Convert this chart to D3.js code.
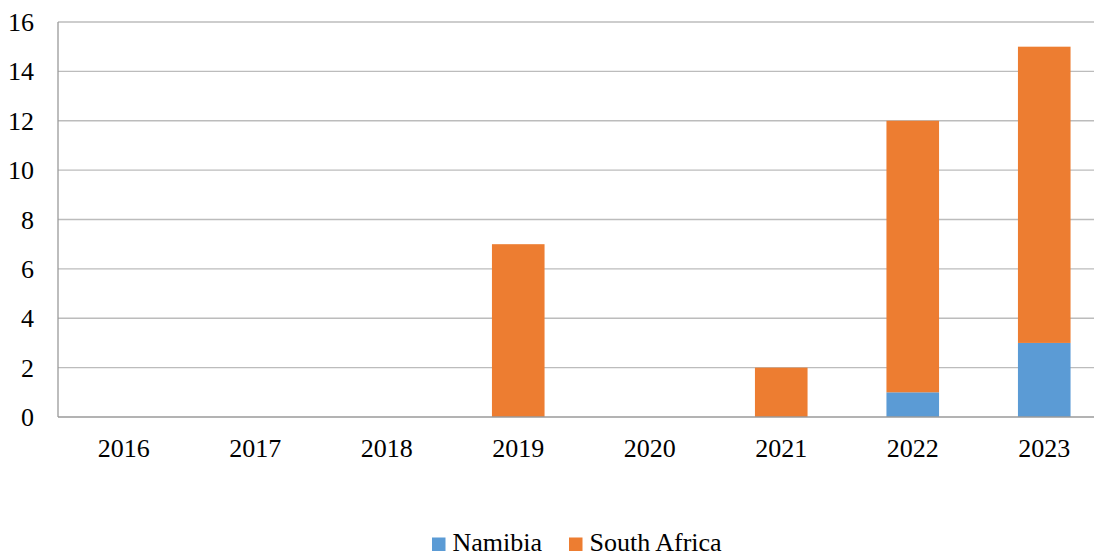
<!DOCTYPE html>
<html><head><meta charset="utf-8">
<script src="https://cdn.jsdelivr.net/npm/d3@7"></script>
<style>body{margin:0;background:#fff}svg{display:block}text{font-family:"Liberation Serif","Times New Roman",serif;fill:#000}</style>
</head><body>
<svg id="c" width="1094" height="554"></svg>
<script>
const years = ["2016","2017","2018","2019","2020","2021","2022","2023"];
const namibia = [0,0,0,0,0,0,1,3];
const southAfrica = [0,0,0,7,0,2,11,12];
const yTicks = [0,2,4,6,8,10,12,14,16];
const seriesNames = ["Namibia","South Africa"];
const colors = ["#5B9BD5","#ED7D31"];

(function(){
const svg = d3.select("#c");
const pLeft = 58, pTop = 22, pBottom = 417, bandW = 131.5;
const x = d3.scaleBand().domain(years).range([pLeft, pLeft + bandW*years.length]).paddingInner(0.6).paddingOuter(0.3);
const y = d3.scaleLinear().domain([0,16]).range([pBottom, pTop]);

svg.append("g").selectAll("line").data(yTicks.filter(t=>t>0)).join("line")
  .attr("x1", pLeft).attr("x2", 1094)
  .attr("y1", d=>y(d)).attr("y2", d=>y(d))
  .attr("stroke", "#bcbcbc").attr("stroke-width", 1.3);

const table = years.map((yr,i)=>({year:yr, Namibia:namibia[i], "South Africa":southAfrica[i]}));
const stack = d3.stack().keys(seriesNames)(table);
svg.append("g").selectAll("g").data(stack).join("g")
  .attr("fill", (d,i)=>colors[i])
  .selectAll("rect").data(d=>d).join("rect")
  .attr("x", d=>x(d.data.year))
  .attr("width", x.bandwidth())
  .attr("y", d=>y(d[1]))
  .attr("height", d=>y(d[0])-y(d[1]));

svg.append("line").attr("x1",pLeft).attr("x2",pLeft).attr("y1",pTop).attr("y2",pBottom).attr("stroke","#9a9a9a").attr("stroke-width",1.3);
svg.append("line").attr("x1",pLeft).attr("x2",1094).attr("y1",pBottom).attr("y2",pBottom).attr("stroke","#9a9a9a").attr("stroke-width",1.3);

svg.append("g").selectAll("text").data(yTicks).join("text")
  .attr("x", 34).attr("y", d=>y(d)).attr("dy","0.35em")
  .attr("text-anchor","end").attr("font-size",26).text(d=>d);

svg.append("g").selectAll("text").data(years).join("text")
  .attr("x", d=>x(d)+x.bandwidth()/2).attr("y", 457)
  .attr("text-anchor","middle").attr("font-size",26).text(d=>d);

const legX = [432, 569];
const leg = svg.append("g").selectAll("g").data(seriesNames).join("g")
  .attr("transform",(d,i)=>`translate(${legX[i]},537.5)`);
leg.append("rect").attr("width",13.5).attr("height",13.5).attr("fill",(d,i)=>colors[i]);
leg.append("text").attr("x",20.5).attr("y",13.5).attr("font-size",26).text(d=>d);
})();
</script>
</body></html>
